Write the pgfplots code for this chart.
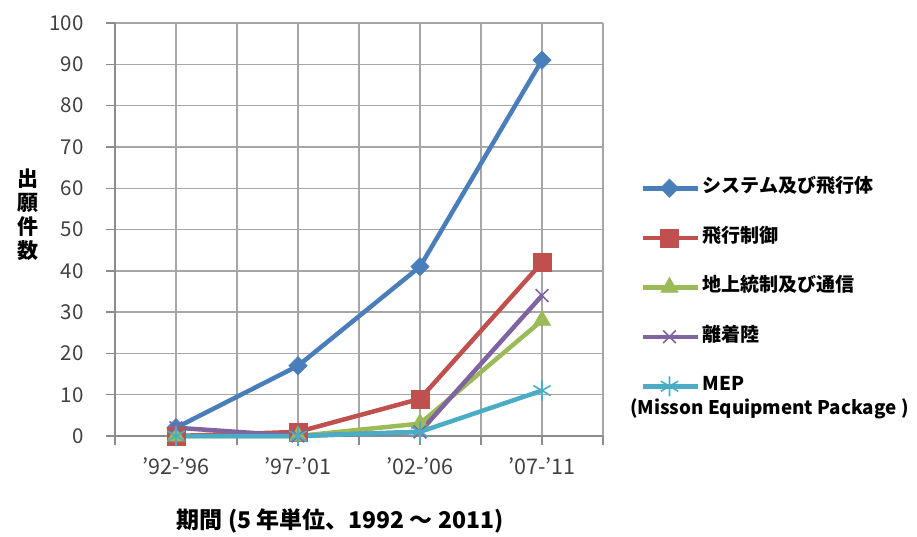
\documentclass[border=0pt]{standalone}
\usepackage{fontspec}
\setmainfont{Noto Sans CJK JP}
\usepackage{pgfplots}
\pgfplotsset{compat=1.18}
\definecolor{cBlue}{HTML}{4A7EBB}
\definecolor{cRed}{HTML}{C0504D}
\definecolor{cGreen}{HTML}{9BBB59}
\definecolor{cPurple}{HTML}{8064A2}
\definecolor{cCyan}{HTML}{4BACC6}
\definecolor{gridgray}{HTML}{A6A6A6}
\definecolor{axisgray}{HTML}{8C8C8C}
\definecolor{ticktext}{HTML}{404040}
\begin{document}
\begin{tikzpicture}
\useasboundingbox (-115pt,-100pt) rectangle (802pt,436pt);
\begin{axis}[
  scale only axis, width=488pt, height=413pt,
  anchor=south west, at={(0pt,0pt)},
  xmin=-0.5, xmax=3.5, ymin=0, ymax=100,
  axis lines=left, axis line style={-, draw=axisgray, line width=1.6pt},
  xtick={-0.5,0,0.5,1,1.5,2,2.5,3,3.5},
  xticklabels={,'92-'96,,'97-'01,,'02-'06,,'07-'11,},
  ytick={0,10,...,100},
  tick align=outside, major tick length=9pt,
  tick style={draw=axisgray, line width=1.4pt},
  grid=major, major grid style={draw=gridgray, line width=1.4pt},
  /pgf/number format/assume math mode=true,
  yticklabel style={font=\fontsize{20.5}{24}\selectfont, text=ticktext, xshift=-17pt},
  xticklabel style={font=\fontsize{21.5}{25}\selectfont, text=ticktext, yshift=-7pt},
  clip=false,
  line width=4.5pt,
  legend style={at={(axis description cs:1,0)}, anchor=south west,
    xshift=32pt, yshift=34pt, draw=none, fill=none,
    font=\fontsize{19}{22}\selectfont\bfseries, row sep=26.5pt,
    nodes={inner sep=3pt, text height=13pt, text depth=4pt}},
  legend cell align=left,
  legend image code/.code={\draw[mark repeat=2,mark phase=2] plot coordinates {(0pt,0pt) (27pt,0pt) (55pt,0pt)};},
]
\addplot[cBlue, mark=square*, mark size=6.5pt, mark options={rotate=45, line width=0.5pt}]
  coordinates {(0,2) (1,17) (2,41) (3,91)};
\addlegendentry{システム及び飛行体}
\addplot[cRed, mark=square*, mark size=9pt, mark options={line width=0.5pt}]
  coordinates {(0,0) (1,1) (2,9) (3,42)};
\addlegendentry{飛行制御}
\addplot[cGreen, mark=triangle*, mark size=10pt, mark options={line width=0.5pt}]
  coordinates {(0,0) (1,0) (2,3) (3,28)};
\addlegendentry{地上統制及び通信}
\addplot[cPurple, mark=x, mark size=9pt, mark options={line width=1.6pt}]
  coordinates {(0,2) (1,0) (2,1) (3,34)};
\addlegendentry{離着陸}
\addplot[cCyan, mark=asterisk, mark size=10pt, mark options={line width=1.6pt}]
  coordinates {(0,0) (1,0) (2,1) (3,11)};
\addlegendentry{MEP}
\end{axis}
\node[anchor=west, font=\fontsize{18.8}{22}\selectfont\bfseries, inner sep=0pt] at (515pt,27pt) {(Misson Equipment Package )};
\node[font=\fontsize{21}{24}\selectfont\bfseries, align=center, inner sep=0pt] at (-87pt,221pt) {出\\願\\件\\数};
\node[font=\fontsize{23}{26}\selectfont\bfseries, inner sep=0pt] at (225pt,-85pt) {期間 (5 年単位、1992 ～ 2011)};
\end{tikzpicture}
\end{document}
